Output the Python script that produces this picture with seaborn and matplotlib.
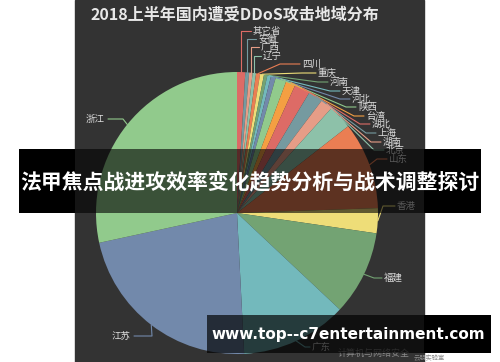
import matplotlib
matplotlib.use('Agg')
import numpy as np
import matplotlib.pyplot as plt
import seaborn as sns
from matplotlib.patches import Rectangle

# data (share of attacks, %)
regions = ['其它省', '安徽', '广西', '辽宁', '四川', '重庆', '河南', '天津', '河北', '陕西',
           '台湾', '湖北', '上海', '湖南', '北京', '山东', '香港', '福建', '广东', '江苏', '浙江']
shares = [0.94, 0.44, 0.39, 0.39, 0.47, 0.44, 0.39, 0.42, 0.56, 1.25,
          1.11, 1.81, 1.67, 1.39, 2.78, 10.0, 2.86, 9.69, 12.19, 22.42, 28.39]
dark_colors = ['#dd6b66', '#759aa0', '#e69d87', '#8dc1a9', '#ea7e53', '#eedd78',
               '#73a373', '#73b9bc', '#7289ab', '#91ca8c', '#f49f42']

# label text anchor (px) and elbow x of the leader line (None = straight up)
label_xy = [(253, 31), (258, 39), (261, 47), (263, 56), (302, 64), (318, 73), (330, 82),
            (342, 91), (352, 99), (358, 107), (366, 116), (372, 124), (378, 133), (383, 142),
            (386, 150), (389, 159), (397, 206), (384, 278), (312, 347), (131, 336), (105, 119)]
elbow_x = [None, None, None, None, 280, 302, 318, 330, 340, 346, 354, 360, 366, 371,
           374, 377, 383, 374, 305, 152, 123]

sns.set_theme(style='dark')
plt.rcParams['font.family'] = ['Noto Sans CJK SC', 'DejaVu Sans']

W, H = 500, 362
cx, cy, R = 237, 213, 141
fig = plt.figure(figsize=(5, 3.62), dpi=100)
fig.patch.set_facecolor('white')

bg = fig.add_axes([0, 0, 1, 1])
bg.set_xlim(0, W); bg.set_ylim(H, 0); bg.axis('off')
bg.add_patch(Rectangle((75, 0), 349, H, color='#333333'))
bg.text(235, 15, '2018上半年国内遭受DDoS攻击地域分布', color='#e8e8e8', fontsize=11.5,
        fontweight='bold', ha='center', va='center')

pal = sns.color_palette(dark_colors, n_colors=len(regions))
ax = fig.add_axes([(cx - R) / W, (H - cy - R) / H, 2 * R / W, 2 * R / H])
wedges, _ = ax.pie(shares, colors=pal, startangle=90, counterclock=False, radius=1,
                   wedgeprops=dict(linewidth=0))
ax.set_xlim(-1, 1); ax.set_ylim(-1, 1)
ax.set_zorder(1)

ov = fig.add_axes([0, 0, 1, 1])
ov.set_xlim(0, W); ov.set_ylim(H, 0); ov.axis('off')
ov.set_zorder(2)

for w, name, (tx, ty), ex, col in zip(wedges, regions, label_xy, elbow_x, pal):
    mid = np.deg2rad((w.theta1 + w.theta2) / 2)
    px, py = cx + R * np.cos(mid), cy - R * np.sin(mid)
    right = tx > cx
    if ex is None:
        ex = px
    end = tx - 2 if right else tx + 3
    ov.plot([px, ex, end], [py, ty, ty], color=col, lw=0.8, zorder=2)
    ov.text(tx, ty, name, color='#dddddd', fontsize=6.8, va='center',
            ha='left' if right else 'right', zorder=2)

# watermark peeking out under the bottom banner
ov.text(338, 353, '计算机与网络安全', color='#8a8a8a', fontsize=6.5, va='center', zorder=2)
ov.text(414, 362, '云朋实验室', color='#8a8a8a', fontsize=4.5, va='bottom', zorder=2)

# overlay banners
ov.add_patch(Rectangle((19, 149), 462, 64, color='black', alpha=0.6, lw=0, zorder=5))
ov.add_patch(Rectangle((19, 149), 56, 64, color='black', lw=0, zorder=5))
ov.add_patch(Rectangle((424, 149), 57, 64, color='black', lw=0, zorder=5))
ov.text(250, 182, '法甲焦点战进攻效率变化趋势分析与战术调整探讨', color='white',
        fontsize=15, fontweight='bold', ha='center', va='center', zorder=6)

ov.add_patch(Rectangle((207, 315), 284, 38, color='black', alpha=0.68, lw=0, zorder=5))
ov.add_patch(Rectangle((424, 315), 67, 38, color='black', lw=0, zorder=5))
ov.text(348, 334, 'www.top--c7entertainment.com', color='white', fontsize=11,
        fontweight='bold', family='DejaVu Sans', ha='center', va='center', zorder=6)

fig.savefig('out.png', dpi=100)
